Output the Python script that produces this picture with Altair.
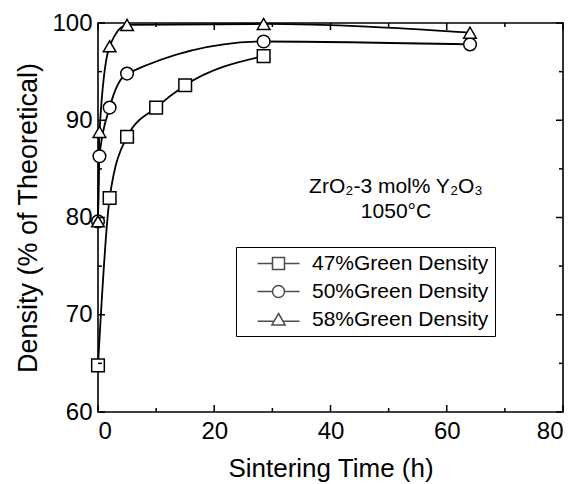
import altair as alt
import pandas as pd

# ---- data ----
series_names = ["47%Green Density", "50%Green Density", "58%Green Density"]
t_47 = [0, 2, 5, 10, 15, 28.5]
d_47 = [64.8, 82.0, 88.3, 91.3, 93.6, 96.6]
t_50 = [0, 0.25, 2, 5, 28.5, 64]
d_50 = [79.6, 86.3, 91.3, 94.8, 98.1, 97.8]
t_58 = [0, 0.25, 2, 5, 28.5, 64]
d_58 = [79.6, 88.8, 97.6, 99.8, 99.9, 99.0]

x_ticks_major = [0, 20, 40, 60, 80]
x_ticks_minor = [10, 30, 50, 70]
y_ticks_major = [60, 70, 80, 90, 100]
y_ticks_minor = [65, 75, 85, 95]

annotation_lines = ["ZrO\u2082-3 mol% Y\u2082O\u2083", "1050\u00b0C"]

FONT = "Liberation Sans"
W, H = 465, 389

rows = []
for name, ts, ds in zip(series_names, [t_47, t_50, t_58], [d_47, d_50, d_58]):
    for t, d in zip(ts, ds):
        rows.append({"series": name, "t": t, "v": d})
df = pd.DataFrame(rows)

xs = alt.Scale(domain=[0, 80], nice=False, zero=False)
ys = alt.Scale(domain=[60, 100], nice=False, zero=False)
x_axis = alt.Axis(values=x_ticks_major, domain=False, ticks=False, grid=False,
                  labelFont=FONT, labelFontSize=24, labelColor="black", labelPadding=7,
                  title="Sintering Time (h)", titleFont=FONT, titleFontSize=26,
                  titleFontWeight="normal", titleColor="black",
                  titleX=W / 2, titleY=56, titleBaseline="middle", titleAlign="center")
y_axis = alt.Axis(values=y_ticks_major, domain=False, ticks=False, grid=False,
                  labelFont=FONT, labelFontSize=24, labelColor="black", labelPadding=6,
                  title="Density (% of Theoretical)", titleFont=FONT, titleFontSize=27,
                  titleFontWeight="normal", titleColor="black",
                  titleX=-70, titleY=H / 2, titleBaseline="middle", titleAlign="center",
                  titleAngle=270)
X = alt.X("t:Q", scale=xs, axis=x_axis)
Y = alt.Y("v:Q", scale=ys, axis=y_axis)

lines = alt.Chart(df).mark_line(interpolate="monotone", color="black", strokeWidth=1.8).encode(
    x=X, y=Y, detail="series:N")

shapes = ["square", "circle", "triangle-up"]
point_layers = []
for name, shp in zip(series_names, shapes):
    point_layers.append(
        alt.Chart(df).transform_filter(alt.datum.series == name).mark_point(
            shape=shp, filled=True, fill="white", stroke="black", strokeWidth=1.5,
            size=160, opacity=1, clip=False).encode(x=X, y=Y))

legend_paths = [
    "M-3.5,0H-1M1,0H3.5M-1,-1H1V1H-1Z",
    "M-3.5,0H-1M1,0H3.5M1,0A1,1,0,1,1,-1,0A1,1,0,1,1,1,0Z",
    "M-3.5,0.3H-0.8M0.8,0.3H3.5M0,-1L1.1,0.9H-1.1Z",
]
legend_layer = alt.Chart(df).transform_filter("datum.t < 0").mark_point(
    filled=False, color="black", strokeWidth=1.5).encode(
    x=X, y=Y,
    shape=alt.Shape("series:N", scale=alt.Scale(domain=series_names, range=legend_paths),
                    legend=alt.Legend(orient="none", legendX=138, legendY=224, title=None,
                                      strokeColor="black", padding=6, symbolSize=144,
                                      symbolStrokeWidth=1.5, symbolStrokeColor="black",
                                      labelFont=FONT, labelFontSize=21, labelColor="black",
                                      rowPadding=6, symbolOffset=26, labelOffset=23,
                                      labelLimit=400, cornerRadius=0)))

def tick_layer(values, axis, side, length):
    d = pd.DataFrame({"t": values, "v": values})
    base = alt.Chart(d).mark_rule(color="black", strokeWidth=1.5)
    if axis == "x":
        if side == "bottom":
            return base.encode(x=X, y=alt.value(H), y2=alt.value(H - length))
        return base.encode(x=X, y=alt.value(0), y2=alt.value(length))
    if side == "left":
        return base.encode(y=Y, x=alt.value(0), x2=alt.value(length))
    return base.encode(y=Y, x=alt.value(W), x2=alt.value(W - length))

ticks = []
for side in ["bottom", "top"]:
    ticks.append(tick_layer(x_ticks_major, "x", side, 7))
    ticks.append(tick_layer(x_ticks_minor, "x", side, 4))
for side in ["left", "right"]:
    ticks.append(tick_layer(y_ticks_major, "y", side, 7))
    ticks.append(tick_layer(y_ticks_minor, "y", side, 4))

annot = alt.Chart(pd.DataFrame({"k": [0]})).mark_text(
    text=annotation_lines, font=FONT, fontSize=21, color="black", align="center",
    baseline="alphabetic", lineHeight=25).encode(x=alt.value(298), y=alt.value(170))

chart = alt.layer(lines, *point_layers, legend_layer, *ticks, annot).properties(
    width=W, height=H,
    padding={"left": 98, "top": 23, "right": 24, "bottom": 72},
    autosize=alt.AutoSizeParams(type="none"),
    background="white",
).configure_view(stroke="black", strokeWidth=1.6)

chart.save("out.html", embed_options={"renderer": "svg", "actions": False})
